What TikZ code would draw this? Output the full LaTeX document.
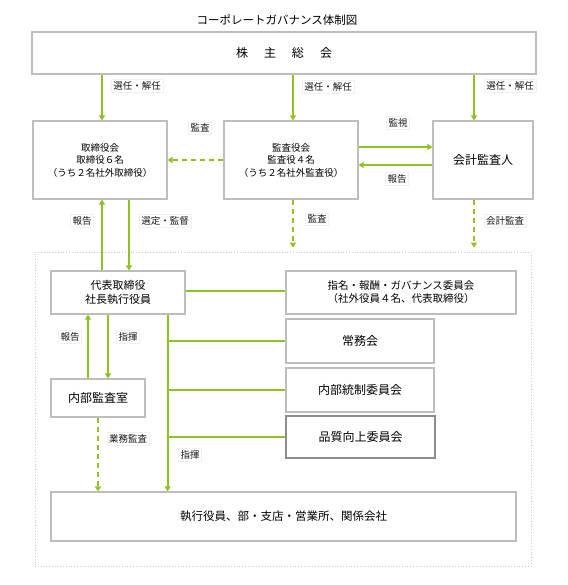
\documentclass[tikz,border=0pt]{standalone}
\usepackage{fontspec}
\setmainfont{Noto Sans CJK JP}
\usetikzlibrary{arrows.meta}
\definecolor{leaf}{HTML}{8DC21F}
\definecolor{boxline}{HTML}{BDBDBD}
\tikzset{
  box/.style={draw=boxline, line width=1.2pt, fill=white, text=black, align=center, inner sep=0pt},
  lbl/.style={draw=black!6, fill=white, text=black!90, font=\fontsize{9.5}{11}\selectfont, inner sep=2pt},
  gline/.style={draw=leaf, line width=2pt},
  arr/.style={gline, -{Triangle[width=6pt,length=5pt]}},
  dasharr/.style={arr, dash pattern=on 5pt off 4pt},
}
\begin{document}
\begin{tikzpicture}[x=1pt,y=-1pt]
            \useasboundingbox (0,0) rectangle (567,585);

            % title and the outer frame
            \node[text=black, font=\fontsize{11.5}{13}\selectfont] (title) at (277,20) {コーポレートガバナンス体制図};
            \node[draw=black!20, dotted, line width=0.8pt, minimum width=496pt, minimum height=314pt] (frame) at (283,409) {};

            % upper row
            \node[box, minimum width=504pt, minimum height=42pt, font=\fontsize{12}{14}\selectfont] (meeting) at (284,53) {株\hspace{16pt}主\hspace{16pt}総\hspace{16pt}会};
            \node[box, minimum width=134pt, minimum height=78pt, font=\fontsize{9.5}{12.5}\selectfont] (board) at (100,160) {取締役会\\取締役６名\\（うち２名社外取締役）};
            \node[box, minimum width=134pt, minimum height=78pt, font=\fontsize{9.5}{12.5}\selectfont] (auditboard) at (291,160) {監査役会\\監査役４名\\（うち２名社外監査役）};
            \node[box, minimum width=100pt, minimum height=78pt, font=\fontsize{12}{14}\selectfont] (accountant) at (483,160) {会計監査人};

            % inside the frame
            \node[box, minimum width=134pt, minimum height=43pt, font=\fontsize{11}{13.5}\selectfont] (ceo) at (118,292.5) {代表取締役\\社長執行役員};
            \node[box, minimum width=94pt, minimum height=38pt, font=\fontsize{12}{14}\selectfont] (auditroom) at (98,398) {内部監査室};
            \node[box, minimum width=230pt, minimum height=43pt, font=\fontsize{10.5}{13}\selectfont] (nomination) at (401,292.5) {指名・報酬・ガバナンス委員会\\（社外役員４名、代表取締役）};
            \node[box, minimum width=148pt, minimum height=44pt, font=\fontsize{12}{14}\selectfont] (managing) at (360,341) {常務会};
            \node[box, minimum width=148pt, minimum height=44pt, font=\fontsize{12}{14}\selectfont] (control) at (360,390) {内部統制委員会};
            \node[box, draw=black!45, minimum width=149pt, minimum height=42pt, font=\fontsize{12}{14}\selectfont] (quality) at (360.5,437) {品質向上委員会};
            \node[box, minimum width=465pt, minimum height=49pt, font=\fontsize{11.5}{14}\selectfont] (staff) at (283.5,516.5) {執行役員、部・支店・営業所、関係会社};

            % connectors
            \draw[arr] ([xshift=2pt]board.north |- meeting.south) -- ([xshift=2pt]board.north);
            \draw[arr] ([xshift=2pt]auditboard.north |- meeting.south) -- ([xshift=2pt]auditboard.north);
            \draw[arr] ([xshift=-9pt]accountant.north |- meeting.south) -- ([xshift=-9pt]accountant.north);
            \draw[dasharr] (auditboard.west) -- (board.east);
            \draw[arr] ([yshift=13pt]auditboard.east) -- ([yshift=13pt]auditboard.east -| accountant.west);
            \draw[arr] ([yshift=-5pt]accountant.west) -- ([yshift=-5pt]accountant.west -| auditboard.east);
            \draw[arr] ([xshift=2pt]board.south |- ceo.north) -- ([xshift=2pt]board.south);
            \draw[arr] ([xshift=29pt]board.south) -- ([xshift=29pt]board.south |- ceo.north);
            \draw[dasharr] ([xshift=2pt]auditboard.south) -- ([xshift=2pt,yshift=4pt]auditboard.south |- frame.north);
            \draw[dasharr] ([xshift=-9pt]accountant.south) -- ([xshift=-9pt,yshift=4pt]accountant.south |- frame.north);
            \draw[arr] ([xshift=-10pt]auditroom.north) -- ([xshift=-10pt]auditroom.north |- ceo.south);
            \draw[arr] ([xshift=10pt]auditroom.north |- ceo.south) -- ([xshift=10pt]auditroom.north);
            \draw[dasharr] (auditroom.south) -- (auditroom.south |- staff.north);

            \coordinate (trunk) at ([xshift=-18pt]ceo.south east);
            \draw[arr] (trunk) -- (trunk |- staff.north);
            \draw[gline] ([yshift=1.5pt]ceo.east) -- ([yshift=1.5pt]ceo.east -| nomination.west);
            \draw[gline] (trunk |- managing.west) -- (managing.west);
            \draw[gline] (trunk |- control.west) -- (control.west);
            \draw[gline] (trunk |- quality.west) -- (quality.west);

            % labels
            \node[lbl] (elect1) at (137,86) {選任・解任};
            \node[lbl] (elect2) at (328,87) {選任・解任};
            \node[lbl] (elect3) at (510,86) {選任・解任};
            \node[lbl] (audit1) at (200,128) {監査};
            \node[lbl] (watch) at (398,123) {監視};
            \node[lbl] (report1) at (397,179) {報告};
            \node[lbl] (report2) at (82,221) {報告};
            \node[lbl] (select) at (165,221) {選定・監督};
            \node[lbl] (audit2) at (317,219) {監査};
            \node[lbl] (acctaudit) at (505,221) {会計監査};
            \node[lbl] (report3) at (70,337) {報告};
            \node[lbl] (command1) at (128,337) {指揮};
            \node[lbl] (bizaudit) at (128,439) {業務監査};
            \node[lbl] (command2) at (190,455) {指揮};
        \end{tikzpicture}
\end{document}
